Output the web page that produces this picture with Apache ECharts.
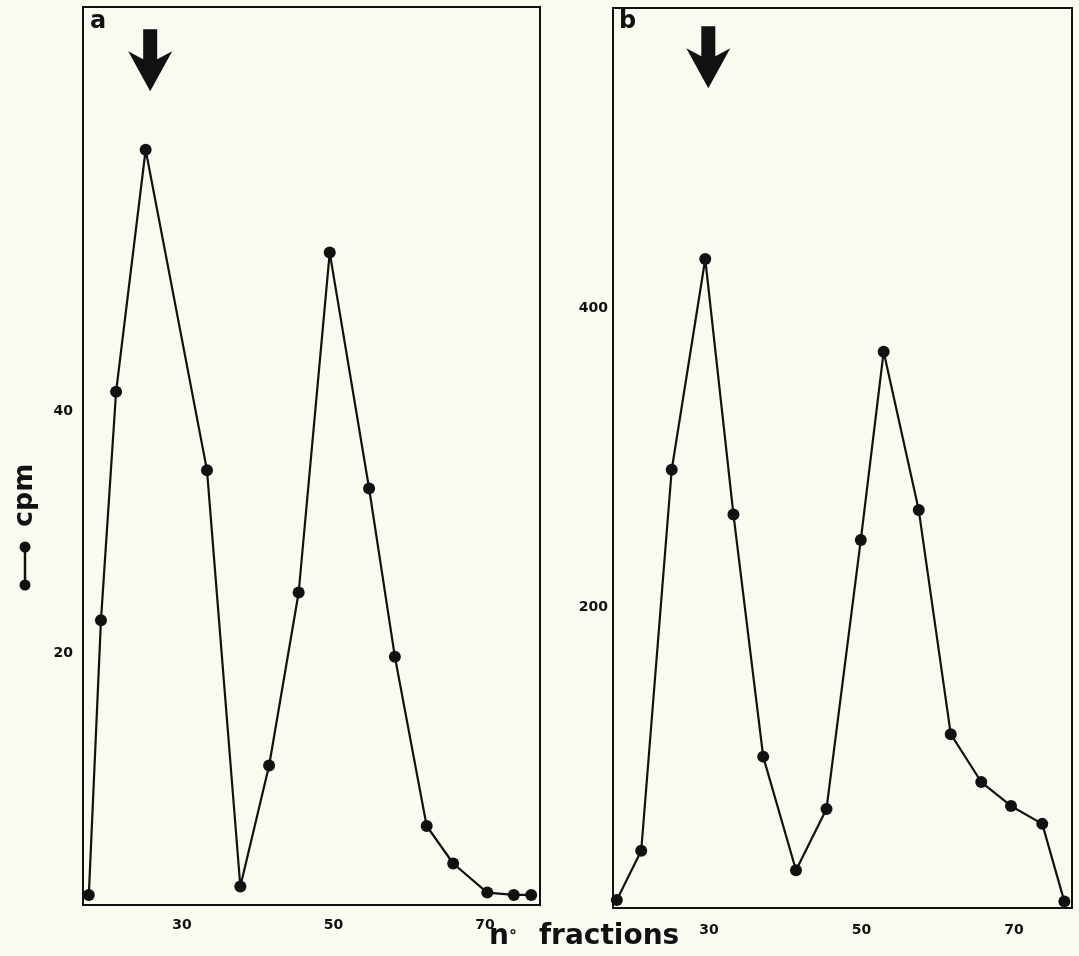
<!DOCTYPE html>
<html>
<head>
<meta charset="utf-8">
<script src="https://cdn.jsdelivr.net/npm/echarts@6/dist/echarts.min.js"></script>
<style>
  html, body { margin: 0; padding: 0; background: #fbfaf1; }
  #chart { width: 1079px; height: 956px; }
</style>
</head>
<body>
<div id="chart"></div>
<script>
// Panel a data
const fractionsA = [17.7, 19.3, 21.3, 25.2, 33.3, 37.7, 41.5, 45.4, 49.5, 54.7, 58.1, 62.3, 65.8, 70.3, 73.8, 76.1];
const cpmA = [0, 22.7, 41.6, 61.6, 35.1, 0.7, 10.7, 25.0, 53.1, 33.6, 19.7, 5.7, 2.6, 0.2, 0, 0];
// Panel b data
const fractionsB = [17.9, 21.1, 25.1, 29.5, 33.2, 37.1, 41.4, 45.4, 49.9, 52.9, 57.5, 61.7, 65.7, 69.6, 73.7, 76.6];
const cpmB = [4, 37, 292, 433, 262, 100, 24, 65, 245, 371, 265, 115, 83, 67, 55, 3];
// Tick labels
const xTicks = [30, 50, 70];
const yTicksA = [20, 40];
const yTicksB = [200, 400];
// Arrow annotations (fraction, cpm position)
const arrowA = [25.8, 69];
const arrowB = [29.9, 568];

const ink = '#111';
const font = 'DejaVu Sans';
const arrowPath = 'path://M15,0 L29,0 L29,30 L44,22 L22,62 L0,22 L15,30 Z';

const chart = echarts.init(document.getElementById('chart'), null, { renderer: 'canvas' });

function xAxis(gridIndex, min, max, margin) {
  return {
    type: 'value', gridIndex, min, max,
    axisLine: { show: false }, axisTick: { show: false }, splitLine: { show: false },
    axisLabel: { customValues: xTicks, color: ink, fontFamily: font, fontWeight: 'bold', fontSize: 14, margin }
  };
}
function yAxis(gridIndex, min, max, ticks, margin) {
  return {
    type: 'value', gridIndex, min, max,
    axisLine: { show: false }, axisTick: { show: false }, splitLine: { show: false },
    axisLabel: { customValues: ticks, color: ink, fontFamily: font, fontWeight: 'bold', fontSize: 14, margin }
  };
}
function lineSeries(idx, xs, ys, arrow) {
  return {
    type: 'line', xAxisIndex: idx, yAxisIndex: idx,
    data: xs.map((x, i) => [x, ys[i]]),
    symbol: 'circle', symbolSize: 12,
    lineStyle: { color: ink, width: 2.2 },
    itemStyle: { color: ink },
    animation: false,
    markPoint: {
      symbol: arrowPath, symbolSize: [44, 62], symbolKeepAspect: false,
      itemStyle: { color: ink },
      label: { show: false },
      data: [{ coord: arrow }]
    }
  };
}

chart.setOption({
  backgroundColor: '#fbfaf1',
  animation: false,
  grid: [
    { left: 83, top: 7, width: 457, height: 898, show: true, borderColor: ink, borderWidth: 2, backgroundColor: 'transparent' },
    { left: 613, top: 8, width: 459, height: 900, show: true, borderColor: ink, borderWidth: 2, backgroundColor: 'transparent' }
  ],
  xAxis: [ xAxis(0, 16.93, 77.26, 13), xAxis(1, 17.4, 77.6, 15) ],
  yAxis: [ yAxis(0, -0.83, 73.4, yTicksA, 10), yAxis(1, -1.3, 601, yTicksB, 5) ],
  series: [ lineSeries(0, fractionsA, cpmA, arrowA), lineSeries(1, fractionsB, cpmB, arrowB) ],
  graphic: [
    { type: 'text', left: 90, top: 10, style: { text: 'a', font: 'bold 24px "DejaVu Sans"', fill: ink } },
    { type: 'text', left: 619, top: 10, style: { text: 'b', font: 'bold 24px "DejaVu Sans"', fill: ink } },
    {
      type: 'text', left: 489, top: 923,
      style: {
        text: '{n|n}{d|°}{f|fractions}',
        rich: {
          n: { font: 'bold 28px "DejaVu Sans"', fill: ink },
          d: { font: 'bold 16px "DejaVu Sans"', fill: ink },
          f: { font: 'bold 28px "DejaVu Sans"', fill: ink, padding: [0, 0, 0, 22] }
        }
      }
    },
    {
      type: 'group', x: 25, y: 527, rotation: Math.PI / 2,
      children: [
        { type: 'text', x: 0, y: 0, style: { text: 'cpm', font: 'bold 27px "DejaVu Sans"', fill: ink, align: 'left', verticalAlign: 'middle' } },
        { type: 'circle', shape: { cx: -20, cy: 0, r: 5.5 }, style: { fill: ink } },
        { type: 'line', shape: { x1: -20, y1: 0, x2: -58, y2: 0 }, style: { stroke: ink, lineWidth: 2.5 } },
        { type: 'circle', shape: { cx: -58, cy: 0, r: 5.5 }, style: { fill: ink } }
      ]
    }
  ]
});
</script>
</body>
</html>
